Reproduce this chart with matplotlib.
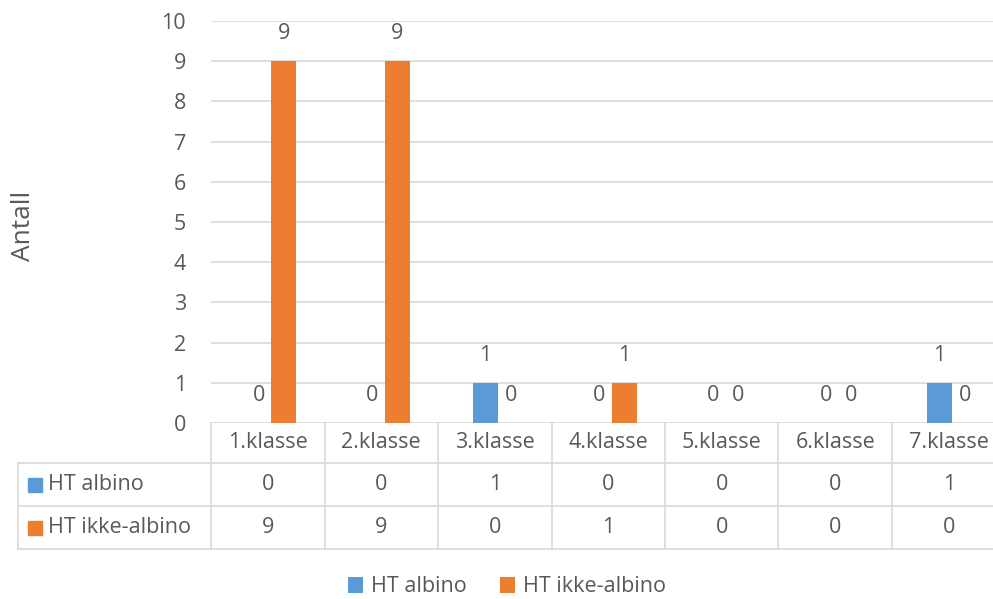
import matplotlib.pyplot as plt
import matplotlib.transforms as mtransforms
import numpy as np

plt.rcParams['font.family'] = ['Open Sans', 'DejaVu Sans']

klasser = ['1.klasse', '2.klasse', '3.klasse', '4.klasse', '5.klasse', '6.klasse', '7.klasse']
ht_albino = [0, 0, 1, 0, 0, 0, 1]
ht_ikke_albino = [9, 9, 0, 1, 0, 0, 0]
serier = ['HT albino', 'HT ikke-albino']
farger = ['#5B9BD5', '#ED7D31']

tekst = '#595959'
linje = '#D9D9D9'
fs = 15.5
W, H = 993, 599

fig = plt.figure(figsize=(W / 100, H / 100), dpi=100)
# plot area in pixels: left 211, top 21, bottom 423, seven columns of 113.5 px
ax = fig.add_axes([211 / W, 1 - 423 / H, 7 * 113.5 / W, (423 - 21) / H])

x = np.arange(len(klasser))
bw = 0.22
b1 = ax.bar(x - bw / 2 + 0.03, ht_albino, bw, color=farger[0], label=serier[0])
b2 = ax.bar(x + bw / 2 + 0.03, ht_ikke_albino, bw, color=farger[1], label=serier[1])

for bars, vals in ((b1, ht_albino), (b2, ht_ikke_albino)):
    for b, v in zip(bars, vals):
        ax.annotate(str(v), (b.get_x() + b.get_width() / 2, v), xytext=(0, 20),
                    textcoords='offset points', ha='center', va='center',
                    fontsize=fs, color=tekst)

ax.set_xlim(-0.5, len(klasser) - 0.5)
ax.set_ylim(0, 10)
ax.set_yticks(range(0, 11))
ax.yaxis.grid(True, color=linje, lw=1.2)
ax.set_axisbelow(True)
ax.tick_params(axis='y', length=0, pad=18, labelsize=fs, labelcolor=tekst)
ax.set_xticks([])
for s in ax.spines.values():
    s.set_visible(False)
ax.set_ylabel('Antall', fontsize=19, color=tekst, labelpad=0)
ax.yaxis.set_label_coords(-188 / (7 * 113.5), (423 - 226) / 402)
ax.yaxis.label.set_verticalalignment('center')

# data table under the plot
tr = mtransforms.blended_transform_factory(ax.transData, fig.transFigure)
fy = lambda py: 1 - py / H
fx = lambda px: px / W
y_head, y_r1, y_r2, y_end = 423, 463, 506, 549
kw = dict(color=linje, lw=1.2, clip_on=False)

for i in range(len(klasser) + 1):
    ax.plot([i - 0.5, i - 0.5], [fy(y_head), fy(y_end)], transform=tr, **kw)
for yy in (y_r1, y_r2, y_end):
    fig.add_artist(plt.Line2D([fx(18), 1.02], [fy(yy), fy(yy)], **kw))
fig.add_artist(plt.Line2D([fx(18), fx(18)], [fy(y_r1), fy(y_end)], **kw))

for i, k in enumerate(klasser):
    ax.text(i, fy((y_head + y_r1) / 2), k, transform=tr, ha='center', va='center',
            fontsize=fs, color=tekst)
    ax.text(i, fy((y_r1 + y_r2) / 2), str(ht_albino[i]), transform=tr,
            ha='center', va='center', fontsize=fs, color=tekst)
    ax.text(i, fy((y_r2 + y_end) / 2), str(ht_ikke_albino[i]), transform=tr,
            ha='center', va='center', fontsize=fs, color=tekst)

for navn, farge, (a, b) in zip(serier, farger, ((y_r1, y_r2), (y_r2, y_end))):
    ym = (a + b) / 2
    fig.add_artist(plt.Rectangle((fx(28), fy(ym + 7)), 14 / W, 14 / H,
                                 color=farge, transform=fig.transFigure))
    fig.text(fx(48), fy(ym), navn, ha='left', va='center', fontsize=fs, color=tekst)

fig.legend(handles=[b1, b2], loc='center', bbox_to_anchor=(fx(507), fy(587)),
           ncol=2, frameon=False, fontsize=fs, labelcolor=tekst,
           handlelength=0.7, handleheight=0.7, handletextpad=0.4, columnspacing=1.5)

fig.savefig('out.png', dpi=100)
